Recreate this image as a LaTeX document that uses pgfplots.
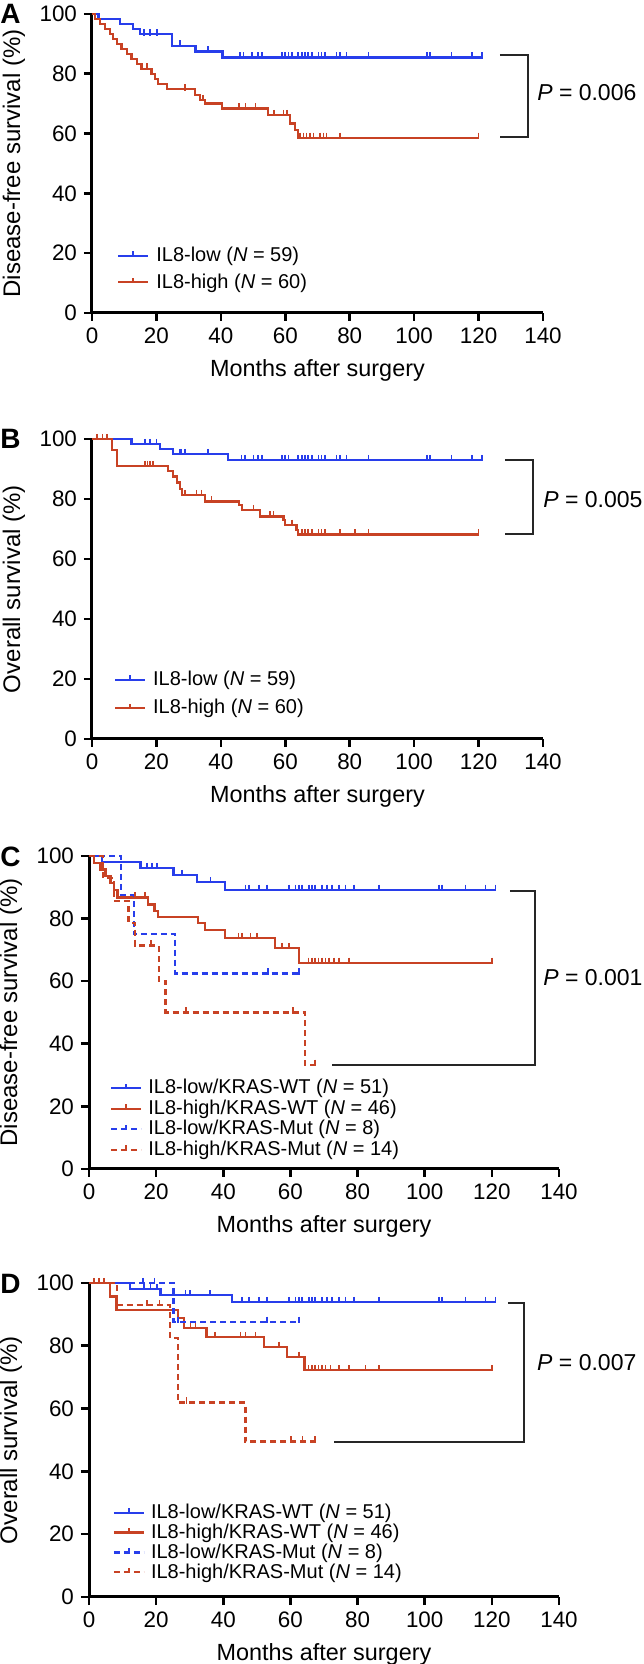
\documentclass[border=0pt]{standalone}
\usepackage{fontspec}
\setmainfont{Liberation Sans}
\usepackage{pgfplots}
\pgfplotsset{compat=1.18}
\definecolor{kmblue}{RGB}{40,62,235}
\definecolor{kmred}{RGB}{200,66,36}
\pgfplotsset{
  kmaxis/.style={
    scale only axis, xmin=0, xmax=140, ymin=0, ymax=100,
    axis x line*=bottom, axis y line*=left,
    axis line style={line width=1.5pt,-},
    tick style={line width=1.3pt, black},
    major tick length=4pt, tick align=outside,
    xtick={0,20,...,140}, ytick={0,20,...,100},
    xtick pos=left, ytick pos=left,
    clip=false,
    /pgf/number format/assume math mode=true,
    ticklabel style={font=\fontsize{11.2}{13}\selectfont},
    every axis x label/.style={at={(rel axis cs:0.5,0)}, anchor=center, yshift=-28.5pt, font=\fontsize{11.7}{14}\selectfont},
    every axis y label/.style={at={(rel axis cs:0,0.5)}, xshift=-39pt, rotate=90, anchor=center, font=\fontsize{12}{14}\selectfont},
    xlabel={Months after surgery},
    legend cell align=left,
    legend image code/.code={\draw[##1, line width=1.1pt] (0pt,0pt) -- (15pt,0pt); \draw[##1, solid, line width=0.8pt] (7.5pt,0pt) -- (7.5pt,2.2pt);},
  },
  kmline/.style={line width=1.15pt, const plot, no marks},
  kmcens/.style={only marks, mark=|, mark size=1.6pt, mark options={solid, line width=0.8pt, yshift=1pt}, forget plot},
  kmdash/.style={dash pattern=on 3pt off 2pt},
  kmbrack/.style={black!85, line width=1.3pt, no marks, forget plot},
}
\begin{document}
\begin{tikzpicture}
\useasboundingbox (0,0) rectangle (321.5pt,832pt);
\node[anchor=west, inner sep=0pt, font=\bfseries\fontsize{14}{16}\selectfont] at (0pt,825.3pt) {A};
\node[anchor=west, inner sep=0pt, font=\bfseries\fontsize{14}{16}\selectfont] at (0pt,612.5pt) {B};
\node[anchor=west, inner sep=0pt, font=\bfseries\fontsize{14}{16}\selectfont] at (0pt,403.5pt) {C};
\node[anchor=west, inner sep=0pt, font=\bfseries\fontsize{14}{16}\selectfont] at (0pt,190pt) {D};

% ---------------- A ----------------
\begin{axis}[kmaxis, at={(46pt,675.5pt)}, anchor=south west, width=225.5pt, height=149.5pt,
  ylabel={Disease-free survival (\%)},
  legend style={draw=none, fill=none, at={(axis cs:7.8,14.7)}, anchor=west, inner sep=0pt, outer sep=0pt, row sep=4.5pt, column sep=3.5pt, font=\fontsize{10}{12}\selectfont, nodes={inner sep=0pt}}]
\addplot[kmblue, kmline] coordinates {(0,100)(2,98.3)(8.7,96.6)(12.8,94.9)(14.9,93.2)(24.9,89.4)(32.1,87.5)(40.5,85.4)(121,85.4)};
\addlegendentry{IL8-low (\textit{N} = 59)}
\addplot[kmred, kmline] coordinates {(0,100)(1,98.3)(2.5,96.7)(4,95.0)(5.6,93.3)(6.5,91.7)(7.7,90.0)(9.2,88.3)(10.8,86.7)(12.3,85.0)(13.9,83.3)(15.4,81.7)(18.5,80.0)(19.5,78.3)(20.5,76.6)(23.2,74.8)(32,72.9)(33.5,71.2)(35,70.1)(40.3,68.4)(54.7,66.2)(61.5,63.4)(63,61.2)(64,58.6)(120,58.6)};
\addlegendentry{IL8-high (\textit{N} = 60)}
\addplot[kmblue, kmcens] coordinates {(16.1,93.2)(18.0,93.2)(20.1,93.2)(27.3,89.4)(36.1,87.5)(45.9,85.4)(47.0,85.4)(49.6,85.4)(51.6,85.4)(52.7,85.4)(58.9,85.4)(59.9,85.4)(61.0,85.4)(62.0,85.4)(64.0,85.4)(65.1,85.4)(66.1,85.4)(67.1,85.4)(68.2,85.4)(70.3,85.4)(71.3,85.4)(72.3,85.4)(75.9,85.4)(77.0,85.4)(79.0,85.4)(85.8,85.4)(103.9,85.4)(104.9,85.4)(111.6,85.4)(117.9,85.4)(121.0,85.4)};
\addplot[kmred, kmcens] coordinates {(17,81.7)(28.9,74.8)(34.5,71.2)(45.6,68.4)(47.7,68.4)(50.8,68.4)(56.5,66.2)(59.5,66.2)(60.5,66.2)(64.6,58.6)(65.6,58.6)(66.6,58.6)(67.7,58.6)(68.7,58.6)(70.8,58.6)(71.8,58.6)(72.8,58.6)(77,58.6)(120,58.6)};
\addplot[kmbrack] coordinates {(126.6,86.3)(135.3,86.3)(135.3,58.9)(126.6,58.9)};
\node[anchor=west, inner sep=0pt, font=\fontsize{11.5}{14}\selectfont] at (axis cs:138.1,73.6) {\textit{P} = 0.006};
\end{axis}

% ---------------- B ----------------
\begin{axis}[kmaxis, at={(46pt,462.5pt)}, anchor=south west, width=225.5pt, height=150pt,
  ylabel={Overall survival (\%)},
  legend style={draw=none, fill=none, at={(axis cs:6.8,15)}, anchor=west, inner sep=0pt, outer sep=0pt, row sep=5.5pt, column sep=3.5pt, font=\fontsize{10}{12}\selectfont, nodes={inner sep=0pt}}]
\addplot[kmblue, kmline] coordinates {(0,100)(12.3,98.3)(21.1,96.7)(25.2,95.0)(42.3,93.0)(121,93.0)};
\addlegendentry{IL8-low (\textit{N} = 59)}
\addplot[kmred, kmline] coordinates {(0,100)(6.1,96.4)(7.8,91.0)(23.7,89.3)(25.2,87.5)(26.3,85.5)(27.3,83.3)(27.9,81.3)(35.1,79.2)(45.6,78.0)(46.5,76.3)(52.1,74.2)(59.4,73.0)(59.9,71.4)(63.5,69.7)(64,68.2)(120,68.2)};
\addlegendentry{IL8-high (\textit{N} = 60)}
\addplot[kmblue, kmcens] coordinates {(16.5,98.3)(18,98.3)(20,98.3)(27.3,95.0)(27.8,95.0)(28.9,95.0)(36.1,95.0)(46.4,93.0)(47.5,93.0)(50.1,93.0)(51.6,93.0)(52.7,93.0)(58.9,93.0)(59.9,93.0)(61,93.0)(64,93.0)(65.1,93.0)(66.1,93.0)(67.1,93.0)(68.2,93.0)(70.3,93.0)(71.3,93.0)(72.3,93.0)(75.9,93.0)(77,93.0)(79,93.0)(85.8,93.0)(103.9,93.0)(104.9,93.0)(111.6,93.0)(117.9,93.0)(121,93.0)};
\addplot[kmred, kmcens] coordinates {(1.5,100)(3.3,100)(4.7,100)(16.5,91.0)(17.2,91.0)(18,91.0)(19,91.0)(28.9,81.3)(32.5,81.3)(34,81.3)(37.1,79.2)(50.1,76.3)(55.2,74.2)(56.3,74.2)(62,71.4)(65.1,68.2)(66.1,68.2)(67.1,68.2)(68.2,68.2)(70.3,68.2)(71.3,68.2)(72.3,68.2)(77,68.2)(81.6,68.2)(85.8,68.2)(120,68.2)};
\addplot[kmbrack] coordinates {(128.2,93)(136.9,93)(136.9,68.3)(128.2,68.3)};
\node[anchor=west, inner sep=0pt, font=\fontsize{11.5}{14}\selectfont] at (axis cs:140,79.7) {\textit{P} = 0.005};
\end{axis}

% ---------------- C ----------------
\begin{axis}[kmaxis, at={(44.5pt,247.5pt)}, anchor=south west, width=235pt, height=156.5pt,
  ylabel={Disease-free survival (\%)},
  legend style={draw=none, fill=none, at={(axis cs:6.3,16)}, anchor=west, inner sep=0pt, outer sep=0pt, row sep=1.5pt, column sep=3pt, font=\fontsize{10}{12}\selectfont, nodes={inner sep=0pt}}]
\addplot[kmblue, kmline] coordinates {(0,100)(3.9,98.0)(15.3,96.1)(25.2,93.9)(32.2,91.6)(40.6,89.2)(121.1,89.2)};
\addlegendentry{IL8-low/KRAS-WT (\textit{N} = 51)}
\addplot[kmred, kmline] coordinates {(0,100)(1.4,97.8)(3.4,95.7)(4.9,93.5)(6.4,91.3)(7.4,89.1)(8.5,86.7)(17.5,84.5)(19.5,82.5)(20.6,80.6)(32.4,78.5)(34.5,76.4)(40.6,73.8)(55.5,70.6)(62.5,65.9)(120,65.9)};
\addlegendentry{IL8-high/KRAS-WT (\textit{N} = 46)}
\addplot[kmblue, kmline, kmdash] coordinates {(0,100)(9.6,87.5)(13.3,75.0)(25.7,62.5)(62.5,62.5)};
\addlegendentry{IL8-low/KRAS-Mut (\textit{N} = 8)}
\addplot[kmred, kmline, kmdash] coordinates {(0,100)(4.2,92.9)(7.4,85.7)(11.8,78.6)(13.8,71.4)(20.8,60.0)(22.8,50.0)(64.3,33.3)(67.4,33.3)};
\addlegendentry{IL8-high/KRAS-Mut (\textit{N} = 14)}
\addplot[kmblue, kmcens] coordinates {(17.3,96.1)(18.8,96.1)(20.3,96.1)(27.7,93.9)(36.2,91.6)(46.6,89.2)(47.6,89.2)(50.6,89.2)(53.0,89.2)(59.5,89.2)(61.5,89.2)(62.5,89.2)(63.5,89.2)(65.5,89.2)(66.5,89.2)(67.4,89.2)(69.4,89.2)(70.9,89.2)(72.4,89.2)(74.4,89.2)(76.4,89.2)(78.9,89.2)(86.3,89.2)(104.2,89.2)(105.2,89.2)(112.1,89.2)(118.1,89.2)(121.1,89.2)};
\addplot[kmred, kmcens] coordinates {(13.7,86.7)(16.7,86.7)(44.5,73.8)(45.5,73.8)(48.1,73.8)(50.1,73.8)(57.5,70.6)(59.5,70.6)(65.4,65.9)(66.4,65.9)(67.4,65.9)(68.4,65.9)(69.4,65.9)(70.4,65.9)(71.4,65.9)(72.9,65.9)(74.4,65.9)(77.4,65.9)(120,65.9)};
\addplot[kmblue, kmcens] coordinates {(53.3,62.5)(62.5,62.5)};
\addplot[kmred, kmcens] coordinates {(18.5,71.4)(28.9,50)(60.7,50)(67.4,33.3)};
\addplot[kmbrack] coordinates {(125.4,88.8)(132.8,88.8)(132.8,33.2)(72.4,33.2)};
\node[anchor=west, inner sep=0pt, font=\fontsize{11.5}{14}\selectfont] at (axis cs:135.2,61) {\textit{P} = 0.001};
\end{axis}

% ---------------- D ----------------
\begin{axis}[kmaxis, at={(44.5pt,33.5pt)}, anchor=south west, width=235pt, height=157pt,
  ylabel={Overall survival (\%)},
  legend style={draw=none, fill=none, at={(axis cs:7.1,17.35)}, anchor=west, inner sep=0pt, outer sep=0pt, row sep=1.2pt, column sep=3pt, font=\fontsize{10}{12}\selectfont, nodes={inner sep=0pt}}]
\addplot[kmblue, kmline] coordinates {(0,100)(12.3,98.0)(21.3,96.1)(42.6,93.9)(121.1,93.9)};
\addlegendentry{IL8-low/KRAS-WT (\textit{N} = 51)}
\addplot[kmred, kmline] coordinates {(0,100)(6.3,95.7)(8.2,91.3)(26.5,88.9)(28.2,85.6)(35,82.8)(52.1,79.7)(59,76.5)(64.2,72.2)(120,72.2)};
\addlegendentry{IL8-high/KRAS-WT (\textit{N} = 46)}
\addplot[kmblue, kmline, kmdash] coordinates {(0,100)(25.2,87.6)(62.5,87.6)};
\addlegendentry{IL8-low/KRAS-Mut (\textit{N} = 8)}
\addplot[kmred, kmline, kmdash] coordinates {(0,100)(8.3,92.9)(24.2,82.5)(26.5,61.9)(46.6,49.5)(67.4,49.5)};
\addlegendentry{IL8-high/KRAS-Mut (\textit{N} = 14)}
\addplot[kmblue, kmcens] coordinates {(16.3,98.0)(18.3,98.0)(20.3,98.0)(28.7,96.1)(30,96.1)(36.1,96.1)(45.6,93.9)(47.6,93.9)(50.6,93.9)(53.1,93.9)(59.5,93.9)(61.5,93.9)(62.5,93.9)(63.5,93.9)(65.5,93.9)(66.5,93.9)(67.4,93.9)(69.4,93.9)(70.9,93.9)(72.4,93.9)(74.4,93.9)(76.4,93.9)(78.9,93.9)(86.3,93.9)(104.2,93.9)(105.2,93.9)(112.1,93.9)(118.1,93.9)(121.1,93.9)};
\addplot[kmred, kmcens] coordinates {(1.4,100)(2.9,100)(4.4,100)(30.2,85.6)(31.7,85.6)(37.6,82.8)(45.1,82.8)(46.6,82.8)(49.6,82.8)(56.6,79.7)(62.5,76.5)(65.4,72.2)(66.4,72.2)(67.4,72.2)(68.4,72.2)(69.4,72.2)(70.4,72.2)(71.9,72.2)(74.4,72.2)(77.4,72.2)(82.4,72.2)(86.3,72.2)(120.1,72.2)};
\addplot[kmblue, kmcens] coordinates {(16,100)(19.5,100)(26.5,87.6)(53,87.6)(62.5,87.6)};
\addplot[kmred, kmcens] coordinates {(17.3,92.9)(21,92.9)(29,61.9)(60.1,49.5)(63.6,49.5)(67.4,49.5)};
\addplot[kmbrack] coordinates {(124.8,93.6)(129.6,93.6)(129.6,49.4)(73,49.4)};
\node[anchor=west, inner sep=0pt, font=\fontsize{11.5}{14}\selectfont] at (axis cs:133.4,74.5) {\textit{P} = 0.007};
\end{axis}
\end{tikzpicture}
\end{document}
